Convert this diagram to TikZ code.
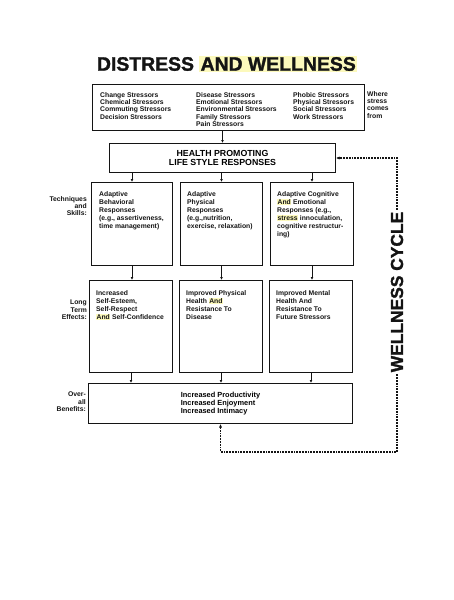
\documentclass[tikz,border=0pt]{standalone}
\usepackage{fontspec}
\setsansfont{Liberation Sans}
\usetikzlibrary{arrows.meta,positioning,calc}
\definecolor{hlyellow}{RGB}{252,249,188}
\definecolor{inkblack}{RGB}{20,20,20}
\newcommand{\hlt}[2][0.4pt]{{\setlength{\fboxsep}{#1}\colorbox{hlyellow}{#2}}}
\newcommand{\bodyfont}{\sffamily\bfseries\fontsize{6.8}{8}\selectfont}
\newcommand{\listfont}{\sffamily\bfseries\fontsize{6.8}{7.4}\selectfont}
\newcommand{\heavyfont}[1]{\sffamily\bfseries\fontsize{#1}{#1}\selectfont\addfontfeature{FakeBold=1.5}}

\tikzset{
  box/.style={draw=inkblack, line width=1pt, anchor=north west, inner sep=0pt},
  boxtxt/.style={font=\bodyfont, text=inkblack, align=left, anchor=north west, inner sep=0pt},
  sidelbl/.style={font=\listfont, text=inkblack, align=right, anchor=east, inner sep=0pt},
  flow/.style={draw=inkblack, line width=0.7pt, -{Latex[length=3pt,width=2.8pt]}},
  cyc/.style={draw=inkblack, line width=1.6pt, dash pattern=on 1.8pt off 1pt},
}

\begin{document}
\begin{tikzpicture}[x=1pt, y=-1pt]
    \useasboundingbox (0,0) rectangle (453,600);

    % title
    \node[font=\heavyfont{19.4}, text=inkblack] (title) at (227,64)
      {DISTRESS \hlt[1.2pt]{AND WELLNESS}};

    % where stress comes from
    \node[box, minimum width=272pt, minimum height=46pt] (stress) at (92,84) {};
    \node[boxtxt, font=\listfont] (stress-a) at ([xshift=8pt,yshift=-8pt]stress.north west)
      {Change Stressors\\Chemical Stressors\\Commuting Stressors\\Decision Stressors};
    \node[boxtxt, font=\listfont] (stress-b) at ([xshift=104pt,yshift=-8pt]stress.north west)
      {Disease Stressors\\Emotional Stressors\\Environmental Stressors\\Family Stressors\\Pain Stressors};
    \node[boxtxt, font=\listfont] (stress-c) at ([xshift=201pt,yshift=-8pt]stress.north west)
      {Phobic Stressors\\Physical Stressors\\Social Stressors\\Work Stressors};
    \node[boxtxt, font=\listfont] (lbl-where) at (367,91) {Where\\stress\\comes\\from};

    % responses
    \node[box, minimum width=226pt, minimum height=29pt, align=center,
          font=\sffamily\bfseries\fontsize{8.8}{8.6}\selectfont] (health) at (109,143)
      {HEALTH PROMOTING\\LIFE STYLE RESPONSES};
    \draw[flow] (stress.south -| health.north) -- (health.north);

    \node[box, minimum width=81pt, minimum height=83pt] (tech1) at (91,182) {};
    \node[box, minimum width=82pt, minimum height=83pt] (tech2) at (180,182) {};
    \node[box, minimum width=83pt, minimum height=83pt] (tech3) at (270,182) {};
    \node[boxtxt] (tech1-txt) at ([xshift=8pt,yshift=-9pt]tech1.north west)
      {Adaptive\\Behavioral\\Responses\\(e.g., assertiveness,\\time management)};
    \node[boxtxt] (tech2-txt) at ([xshift=7pt,yshift=-9pt]tech2.north west)
      {Adaptive\\Physical\\Responses\\(e.g.,nutrition,\\exercise, relaxation)};
    \node[boxtxt] (tech3-txt) at ([xshift=7pt,yshift=-9pt]tech3.north west)
      {Adaptive Cognitive\\\hlt{And} Emotional\\Responses (e.g.,\\\hlt{stress} innoculation,\\cognitive restructur-\\ing)};
    \node[sidelbl] (lbl-tech) at (87,206) {Techniques\\and\\Skills:};
    \foreach \t in {tech1,tech2,tech3}
      \draw[flow] (health.south -| \t.north) -- (\t.north);

    % effects
    \node[box, minimum width=83pt, minimum height=92pt] (eff1) at (89,280) {};
    \node[box, minimum width=83pt, minimum height=92pt] (eff2) at (179,280) {};
    \node[box, minimum width=83pt, minimum height=92pt] (eff3) at (269,280) {};
    \node[boxtxt] (eff1-txt) at ([xshift=7pt,yshift=-10pt]eff1.north west)
      {Increased\\Self-Esteem,\\Self-Respect\\\hlt{And} Self-Confidence};
    \node[boxtxt] (eff2-txt) at ([xshift=7pt,yshift=-10pt]eff2.north west)
      {Improved Physical\\Health \hlt{And}\\Resistance To\\Disease};
    \node[boxtxt] (eff3-txt) at ([xshift=7pt,yshift=-10pt]eff3.north west)
      {Improved Mental\\Health And\\Resistance To\\Future Stressors};
    \node[sidelbl] (lbl-eff) at (87,310) {Long\\Term\\Effects:};
    \draw[flow] (tech1.south) -- (tech1.south |- eff1.north);
    \draw[flow] (tech2.south) -- (tech2.south |- eff2.north);
    \draw[flow] (tech3.south) -- (tech3.south |- eff3.north);

    % benefits
    \node[box, minimum width=264pt, minimum height=40pt, align=left,
          font=\sffamily\bfseries\fontsize{7.4}{8.2}\selectfont] (benefit) at (88,383)
      {Increased Productivity\\Increased Enjoyment\\Increased Intimacy};
    \node[sidelbl] (lbl-ben) at (86,402) {Over-\\all\\Benefits:};
    \foreach \e in {eff1,eff2,eff3}
      \draw[flow] (\e.south) -- (\e.south |- benefit.north);

    % wellness cycle
    \node[rotate=90, inner sep=2pt, text=inkblack, font=\heavyfont{17.4}] (cycle) at (397,292) {WELLNESS CYCLE};
    \coordinate (cycbot) at ([yshift=-28pt]benefit.south);
    \draw[cyc, -{Latex[length=3.5pt,width=3.2pt]}] (cycle.east) |- (health.east);
    \draw[cyc, -{Latex[length=3.5pt,width=3.2pt]}] (cycle.west) |- (cycbot) -- (benefit.south);
  \end{tikzpicture}
\end{document}
